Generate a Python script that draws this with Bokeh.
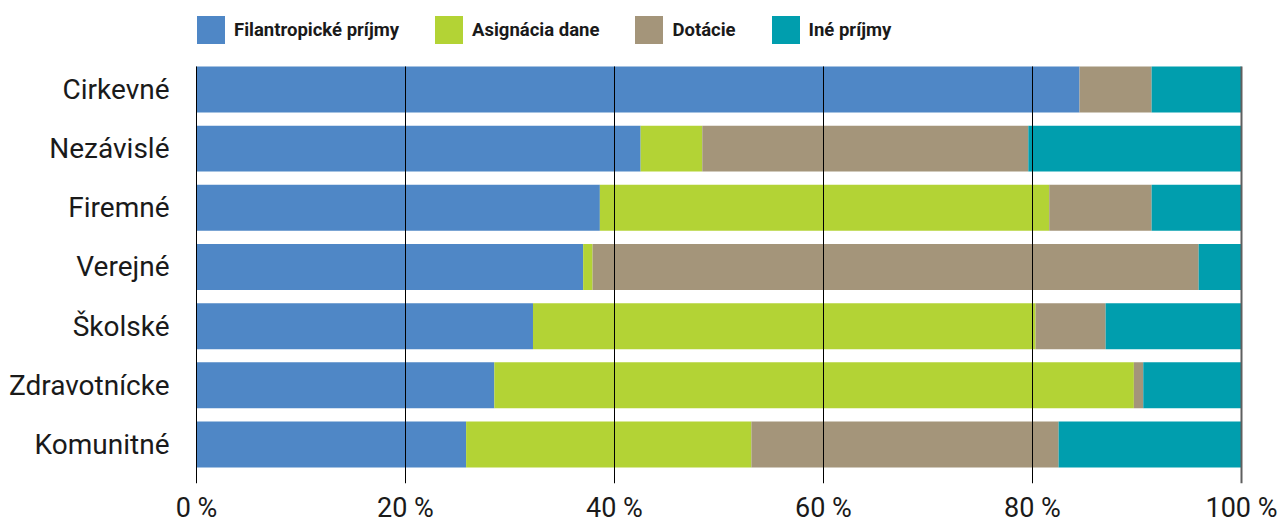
from bokeh.plotting import figure
from bokeh.models import (ColumnDataSource, Range1d, FixedTicker, Legend, LegendItem)
from bokeh.embed import file_html
from bokeh.resources import INLINE

categories = ["Cirkevné", "Nezávislé", "Firemné", "Verejné", "Školské", "Zdravotnícke", "Komunitné"]
series_names = ["Filantropické príjmy", "Asignácia dane", "Dotácie", "Iné príjmy"]
filantropicke = [84.5, 42.5, 38.6, 37.0, 32.2, 28.5, 25.8]
asignacia = [0.0, 5.9, 43.0, 0.9, 48.1, 61.2, 27.3]
dotacie = [6.9, 31.2, 9.8, 58.0, 6.7, 0.9, 29.4]
ine = [8.6, 20.4, 8.6, 4.1, 13.0, 9.4, 17.5]
x_ticks = [0, 20, 40, 60, 80, 100]
x_tick_labels = ["0 %", "20 %", "40 %", "60 %", "80 %", "100 %"]
colors = ["#4F87C6", "#B3D335", "#A4957A", "#009EAE"]

keys = ["fil", "asg", "dot", "ine"]
src = ColumnDataSource(dict(
    y=list(range(len(categories))),
    fil=filantropicke, asg=asignacia, dot=dotacie, ine=ine,
))

BAR_H = 0.777
Y_BOTTOM = 6.659
Y_TOP = -1.503
PX = 10.45  # pixels per percent

p = figure(
    frame_width=1049, frame_height=483,
    x_range=Range1d(-1 / PX, 100 + 3 / PX),
    y_range=Range1d(Y_BOTTOM, Y_TOP),
    output_backend="svg", toolbar_location=None,
    min_border_left=195, min_border_top=0, min_border_right=41, min_border_bottom=38,
)
p.outline_line_color = None
p.background_fill_color = "white"
p.xgrid.visible = False
p.ygrid.visible = False

renderers = p.hbar_stack(keys, y="y", height=BAR_H, source=src, color=colors, line_color=None)

# vertical grid lines on top of bars, limited to the bar area
inner = x_ticks[:-1]
p.segment(x0=inner, x1=inner, y0=[-BAR_H / 2] * len(inner), y1=[Y_BOTTOM] * len(inner),
          line_color="#000000", line_width=1)
p.segment(x0=x_ticks[-1:], x1=x_ticks[-1:], y0=[-BAR_H / 2], y1=[Y_BOTTOM],
          line_color="#5f5f5f", line_width=2)

# x axis
xa = p.xaxis[0]
xa.ticker = FixedTicker(ticks=x_ticks)
xa.major_label_overrides = {t: l for t, l in zip(x_ticks, x_tick_labels)}
xa.axis_line_color = None
xa.major_tick_line_color = None
xa.minor_tick_line_color = None
xa.major_tick_out = 0
xa.major_tick_in = 0
xa.major_label_standoff = 8
xa.major_label_text_font = "Roboto"
xa.major_label_text_font_size = "27px"
xa.major_label_text_color = "#1a1a1a"

# y axis
ya = p.yaxis[0]
ya.ticker = FixedTicker(ticks=list(range(len(categories))))
ya.major_label_overrides = {i: c for i, c in enumerate(categories)}
ya.axis_line_color = None
ya.major_tick_line_color = None
ya.minor_tick_line_color = None
ya.major_tick_out = 0
ya.major_tick_in = 0
ya.major_label_standoff = 26
ya.major_label_text_font = "Roboto"
ya.major_label_text_font_size = "28px"
ya.major_label_text_color = "#1a1a1a"

legend = Legend(
    items=[LegendItem(label=n, renderers=[r]) for n, r in zip(series_names, renderers)],
    orientation="horizontal",
    location=(-2, 436),
    glyph_width=35, glyph_height=35,
    label_standoff=6, spacing=32, padding=0, margin=0,
    border_line_color=None, background_fill_alpha=0,
    label_text_font="Roboto", label_text_font_style="bold",
    label_text_font_size="18.5px", label_text_color="#1a1a1a",
)
p.add_layout(legend, "center")

open("out.html", "w").write(file_html(p, INLINE))
